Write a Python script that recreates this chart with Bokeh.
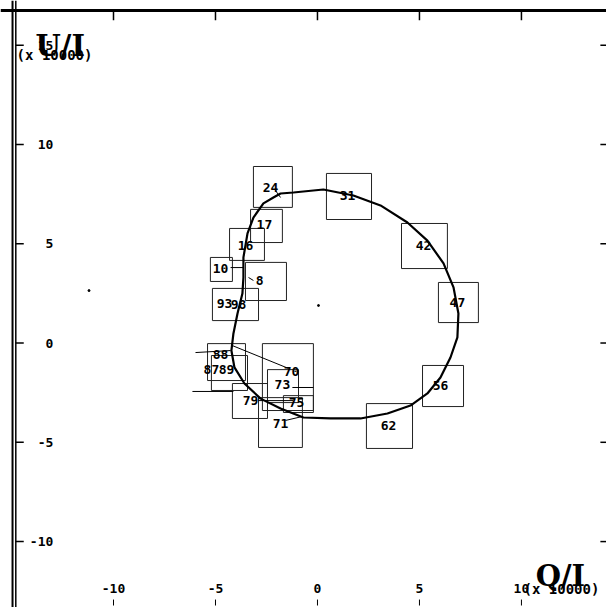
from bokeh.plotting import figure
from bokeh.models import Range1d, Span
from bokeh.core.properties import value
from bokeh.embed import file_html
from bokeh.resources import INLINE

# ---- data (units of 1e-4) ----
curve_q = [-2.16, -1.81, -1.18, 0.29, 1.76, 3.09, 4.41, 5.39, 6.18, 6.67, 6.91, 6.86,
           6.52, 6.03, 5.39, 4.56, 3.43, 2.11, 0.64, -0.69, -1.81, -2.79, -3.58, -4.07,
           -4.22, -4.12, -3.92, -3.68, -3.63, -3.63, -3.43, -3.14, -2.65]
curve_u = [7.33, 7.53, 7.58, 7.73, 7.43, 6.93, 6.07, 5.16, 4.01, 2.80, 1.49, 0.28,
           -0.73, -1.74, -2.54, -3.15, -3.55, -3.80, -3.80, -3.75, -3.30, -2.80, -2.04, -1.23,
           -0.38, 0.48, 1.49, 2.49, 3.30, 4.31, 5.52, 6.32, 7.03]

label_text = ["24", "31", "42", "47", "56", "62", "17", "16", "10", "8", "93", "98",
              "88", "87", "89", "70", "73", "75", "79", "71"]
label_q = [-2.30, 1.47, 5.20, 6.86, 6.03, 3.48, -2.60, -3.53, -4.75, -2.84, -4.56, -3.87,
           -4.75, -5.20, -4.46, -1.27, -1.72, -1.03, -3.28, -1.81]
label_u = [7.83, 7.43, 4.91, 2.04, -2.14, -4.16, 5.97, 4.91, 3.75, 3.15, 1.99, 1.94,
           -0.58, -1.34, -1.34, -1.44, -2.09, -3.00, -2.90, -4.06]

box_left = [-3.14, 0.44, 4.12, 5.93, 5.15, 2.40, -3.28, -4.31, -5.25, -3.53, -5.15,
            -5.39, -5.20, -2.70, -2.45, -1.67, -4.17, -2.89]
box_right = [-1.23, 2.65, 6.37, 7.89, 7.16, 4.66, -1.72, -2.60, -4.17, -1.52, -2.89,
             -3.53, -3.43, -0.20, -0.93, -0.20, -2.45, -0.74]
box_top = [8.89, 8.54, 6.02, 3.05, -1.13, -3.05, 6.73, 5.77, 4.31, 4.06, 2.75,
           -0.03, -0.63, -0.03, -1.34, -2.65, -2.04, -2.75]
box_bottom = [6.83, 6.22, 3.75, 1.03, -3.20, -5.31, 5.06, 4.16, 3.10, 2.14, 1.13,
              -1.89, -2.39, -3.40, -3.00, -3.50, -3.80, -5.26]

lead_q0 = [-5.98, -6.13, -4.17, -1.23, -2.89, -1.57, -4.26, -3.38, -2.06]
lead_u0 = [-0.48, -2.44, -0.13, -2.24, -2.90, -3.90, 3.80, 3.30, 7.68]
lead_q1 = [-4.26, -4.12, -1.42, -0.20, -1.18, -0.74, -3.63, -3.14, -1.81]
lead_u1 = [-0.38, -2.44, -1.28, -2.24, -2.90, -3.70, 3.80, 3.15, 7.33]

dot_q = [0.05, -11.2]
dot_u = [1.89, 2.64]

x_ticks = [-10, -5, 0, 5, 10]
x_tick_labels = ["-10", "-5", "0", "5", "10"]
y_ticks = [-10, -5, 0, 5, 10, 15]
y_tick_labels = ["-10", "-5", "0", "5", "10", "15"]

# ---- layout constants ----
W, H = 606, 607
X0, X1 = -15.54, 14.17
Y0, Y1 = -13.32, 17.25
LEFT_EDGE = -14.95
TOP_EDGE = 16.75
MONO = value("DejaVu Sans Mono")
SERIF = value("DejaVu Serif")

p = figure(width=W, height=H, x_range=Range1d(X0, X1), y_range=Range1d(Y0, Y1),
           min_border=0, toolbar_location=None, output_backend="svg",
           x_axis_location=None, y_axis_location=None)
p.grid.visible = False
p.outline_line_color = None
p.background_fill_color = "white"

# frame lines
p.add_layout(Span(location=LEFT_EDGE, dimension="height", line_color="black", line_width=2))
p.add_layout(Span(location=LEFT_EDGE + 0.16, dimension="height", line_color="black", line_width=1.5))
p.add_layout(Span(location=TOP_EDGE, dimension="width", line_color="black", line_width=3))

# ticks
p.segment(x0=[LEFT_EDGE + 0.15] * len(y_ticks), y0=y_ticks,
          x1=[LEFT_EDGE + 0.55] * len(y_ticks), y1=y_ticks, line_color="black", line_width=1.5)
p.segment(x0=[X1 - 0.3] * len(y_ticks), y0=y_ticks,
          x1=[X1] * len(y_ticks), y1=y_ticks, line_color="black", line_width=1.5)
p.segment(x0=x_ticks, y0=[TOP_EDGE] * len(x_ticks),
          x1=x_ticks, y1=[TOP_EDGE - 0.5] * len(x_ticks), line_color="black", line_width=1.5)
p.segment(x0=x_ticks, y0=[Y0 + 0.1] * len(x_ticks),
          x1=x_ticks, y1=[Y0 + 0.4] * len(x_ticks), line_color="black", line_width=1)

# tick labels
p.text(x=[-12.95] * len(y_ticks), y=y_ticks, text=y_tick_labels, text_font=MONO,
       text_font_style="bold", text_font_size="13px", text_align="right",
       text_baseline="middle", text_color="black")
p.text(x=x_ticks, y=[-12.37] * len(x_ticks), text=x_tick_labels, text_font=MONO,
       text_font_style="bold", text_font_size="13px", text_align="center",
       text_baseline="middle", text_color="black")

# axis titles
p.text(x=[-13.82], y=[14.95], text=["U/I"], text_font=SERIF, text_font_style="bold",
       text_font_size="29px", text_align="left", text_baseline="alphabetic", text_color="black")
p.text(x=[-14.75], y=[14.5], text=["(x 10000)"], text_font=MONO, text_font_style="bold",
       text_font_size="14px", text_align="left", text_baseline="middle", text_color="black")
p.text(x=[10.7], y=[-11.71], text=["Q/I"], text_font=SERIF, text_font_style="bold",
       text_font_size="29px", text_align="left", text_baseline="alphabetic", text_color="black")
p.text(x=[10.1], y=[-12.37], text=["(x 10000)"], text_font=MONO, text_font_style="bold",
       text_font_size="14px", text_align="left", text_baseline="middle", text_color="black")

# error boxes
p.quad(left=box_left, right=box_right, top=box_top, bottom=box_bottom,
       fill_color=None, line_color="#222222", line_width=1)

# leader lines
p.segment(x0=lead_q0, y0=lead_u0, x1=lead_q1, y1=lead_u1, line_color="black", line_width=1)

# loop
p.line(x=curve_q + curve_q[:1], y=curve_u + curve_u[:1], line_color="black", line_width=2.2)

# dots
p.scatter(x=dot_q, y=dot_u, size=2, color="black")

# phase labels
p.text(x=label_q, y=label_u, text=label_text, text_font=MONO, text_font_style="bold",
       text_font_size="13px", text_align="center", text_baseline="middle", text_color="black")

open("out.html", "w").write(file_html(p, INLINE))
